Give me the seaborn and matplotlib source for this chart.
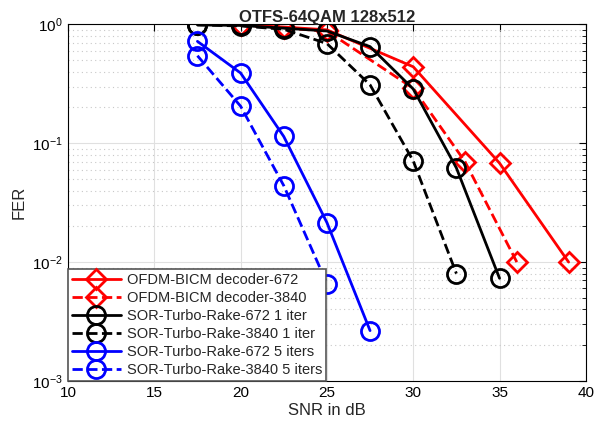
import numpy as np
import pandas as pd
import matplotlib
matplotlib.use("Agg")
import matplotlib.pyplot as plt
import seaborn as sns
from matplotlib.ticker import LogLocator, NullFormatter

# FER vs SNR values
ofdm_672_snr = [20, 22.5, 25, 30, 35, 39]
ofdm_672_fer = [0.99, 0.95, 0.90, 0.44, 0.068, 0.010]

ofdm_3840_snr = [20, 22.5, 25, 30, 33, 36]
ofdm_3840_fer = [0.98, 0.93, 0.88, 0.29, 0.070, 0.010]

sor_672_1_snr = [17.5, 20, 22.5, 25, 27.5, 30, 32.5, 35]
sor_672_1_fer = [0.99, 0.98, 0.93, 0.88, 0.65, 0.286, 0.062, 0.0073]

sor_3840_1_snr = [17.5, 20, 22.5, 25, 27.5, 30, 32.5]
sor_3840_1_fer = [0.99, 0.97, 0.91, 0.69, 0.31, 0.071, 0.008]

sor_672_5_snr = [17.5, 20, 22.5, 25, 27.5]
sor_672_5_fer = [0.72, 0.39, 0.114, 0.0215, 0.00265]

sor_3840_5_snr = [17.5, 20, 22.5, 25]
sor_3840_5_fer = [0.545, 0.205, 0.044, 0.0066]

series = [
    ("OFDM-BICM decoder-672", ofdm_672_snr, ofdm_672_fer, "red", "D", "-"),
    ("OFDM-BICM decoder-3840", ofdm_3840_snr, ofdm_3840_fer, "red", "D", "--"),
    ("SOR-Turbo-Rake-672 1 iter", sor_672_1_snr, sor_672_1_fer, "black", "o", "-"),
    ("SOR-Turbo-Rake-3840 1 iter", sor_3840_1_snr, sor_3840_1_fer, "black", "o", "--"),
    ("SOR-Turbo-Rake-672 5 iters", sor_672_5_snr, sor_672_5_fer, "blue", "o", "-"),
    ("SOR-Turbo-Rake-3840 5 iters", sor_3840_5_snr, sor_3840_5_fer, "blue", "o", "--"),
]

sns.set_style("white")
plt.rcParams["font.family"] = ["Liberation Sans", "DejaVu Sans"]

fig = plt.figure(figsize=(5.96, 4.28), dpi=100)
ax = fig.add_axes([0.114, 0.110, 0.869, 0.833])

for label, snr, fer, color, marker, ls in series:
    ms = 10 if marker == "D" else 13
    sns.lineplot(x=snr, y=fer, ax=ax, color=color, marker=marker, linestyle=ls,
                 linewidth=2, markersize=ms, markerfacecolor="none",
                 markeredgecolor=color, markeredgewidth=2, label=label)

ax.set_yscale("log")
ax.set_xlim(10, 40)
ax.set_ylim(1e-3, 1)
ax.set_xticks([10, 15, 20, 25, 30, 35, 40])
ax.yaxis.set_minor_locator(LogLocator(base=10, subs=np.arange(2, 10)))
ax.yaxis.set_minor_formatter(NullFormatter())

ax.grid(True, which="major", color="#e0e0e0", linewidth=0.8, linestyle="-")
ax.grid(True, which="minor", axis="y", color="#c8c8c8", linewidth=0.8, linestyle=(0, (1, 3)))
ax.set_axisbelow(True)

for sp in ax.spines.values():
    sp.set_color("black")
    sp.set_linewidth(0.8)
ax.tick_params(which="both", direction="in", top=True, right=True, labelsize=11, colors="black")
ax.tick_params(which="major", length=5)
ax.tick_params(which="minor", length=3)

ax.set_xlabel("SNR in dB", fontsize=12, labelpad=2)
ax.set_ylabel("FER", fontsize=12)
ax.set_title("OTFS-64QAM 128x512", fontsize=12, fontweight="bold", pad=2)

leg = ax.legend(loc="lower left", fontsize=10.5, frameon=True, fancybox=False,
                handlelength=3.4, borderaxespad=0, borderpad=0.25, labelspacing=0.28,
                handletextpad=0.4)
leg.get_frame().set_edgecolor("#555555")
leg.get_frame().set_linewidth(1.2)
leg.get_frame().set_alpha(1)

fig.savefig("out.png", dpi=100)
